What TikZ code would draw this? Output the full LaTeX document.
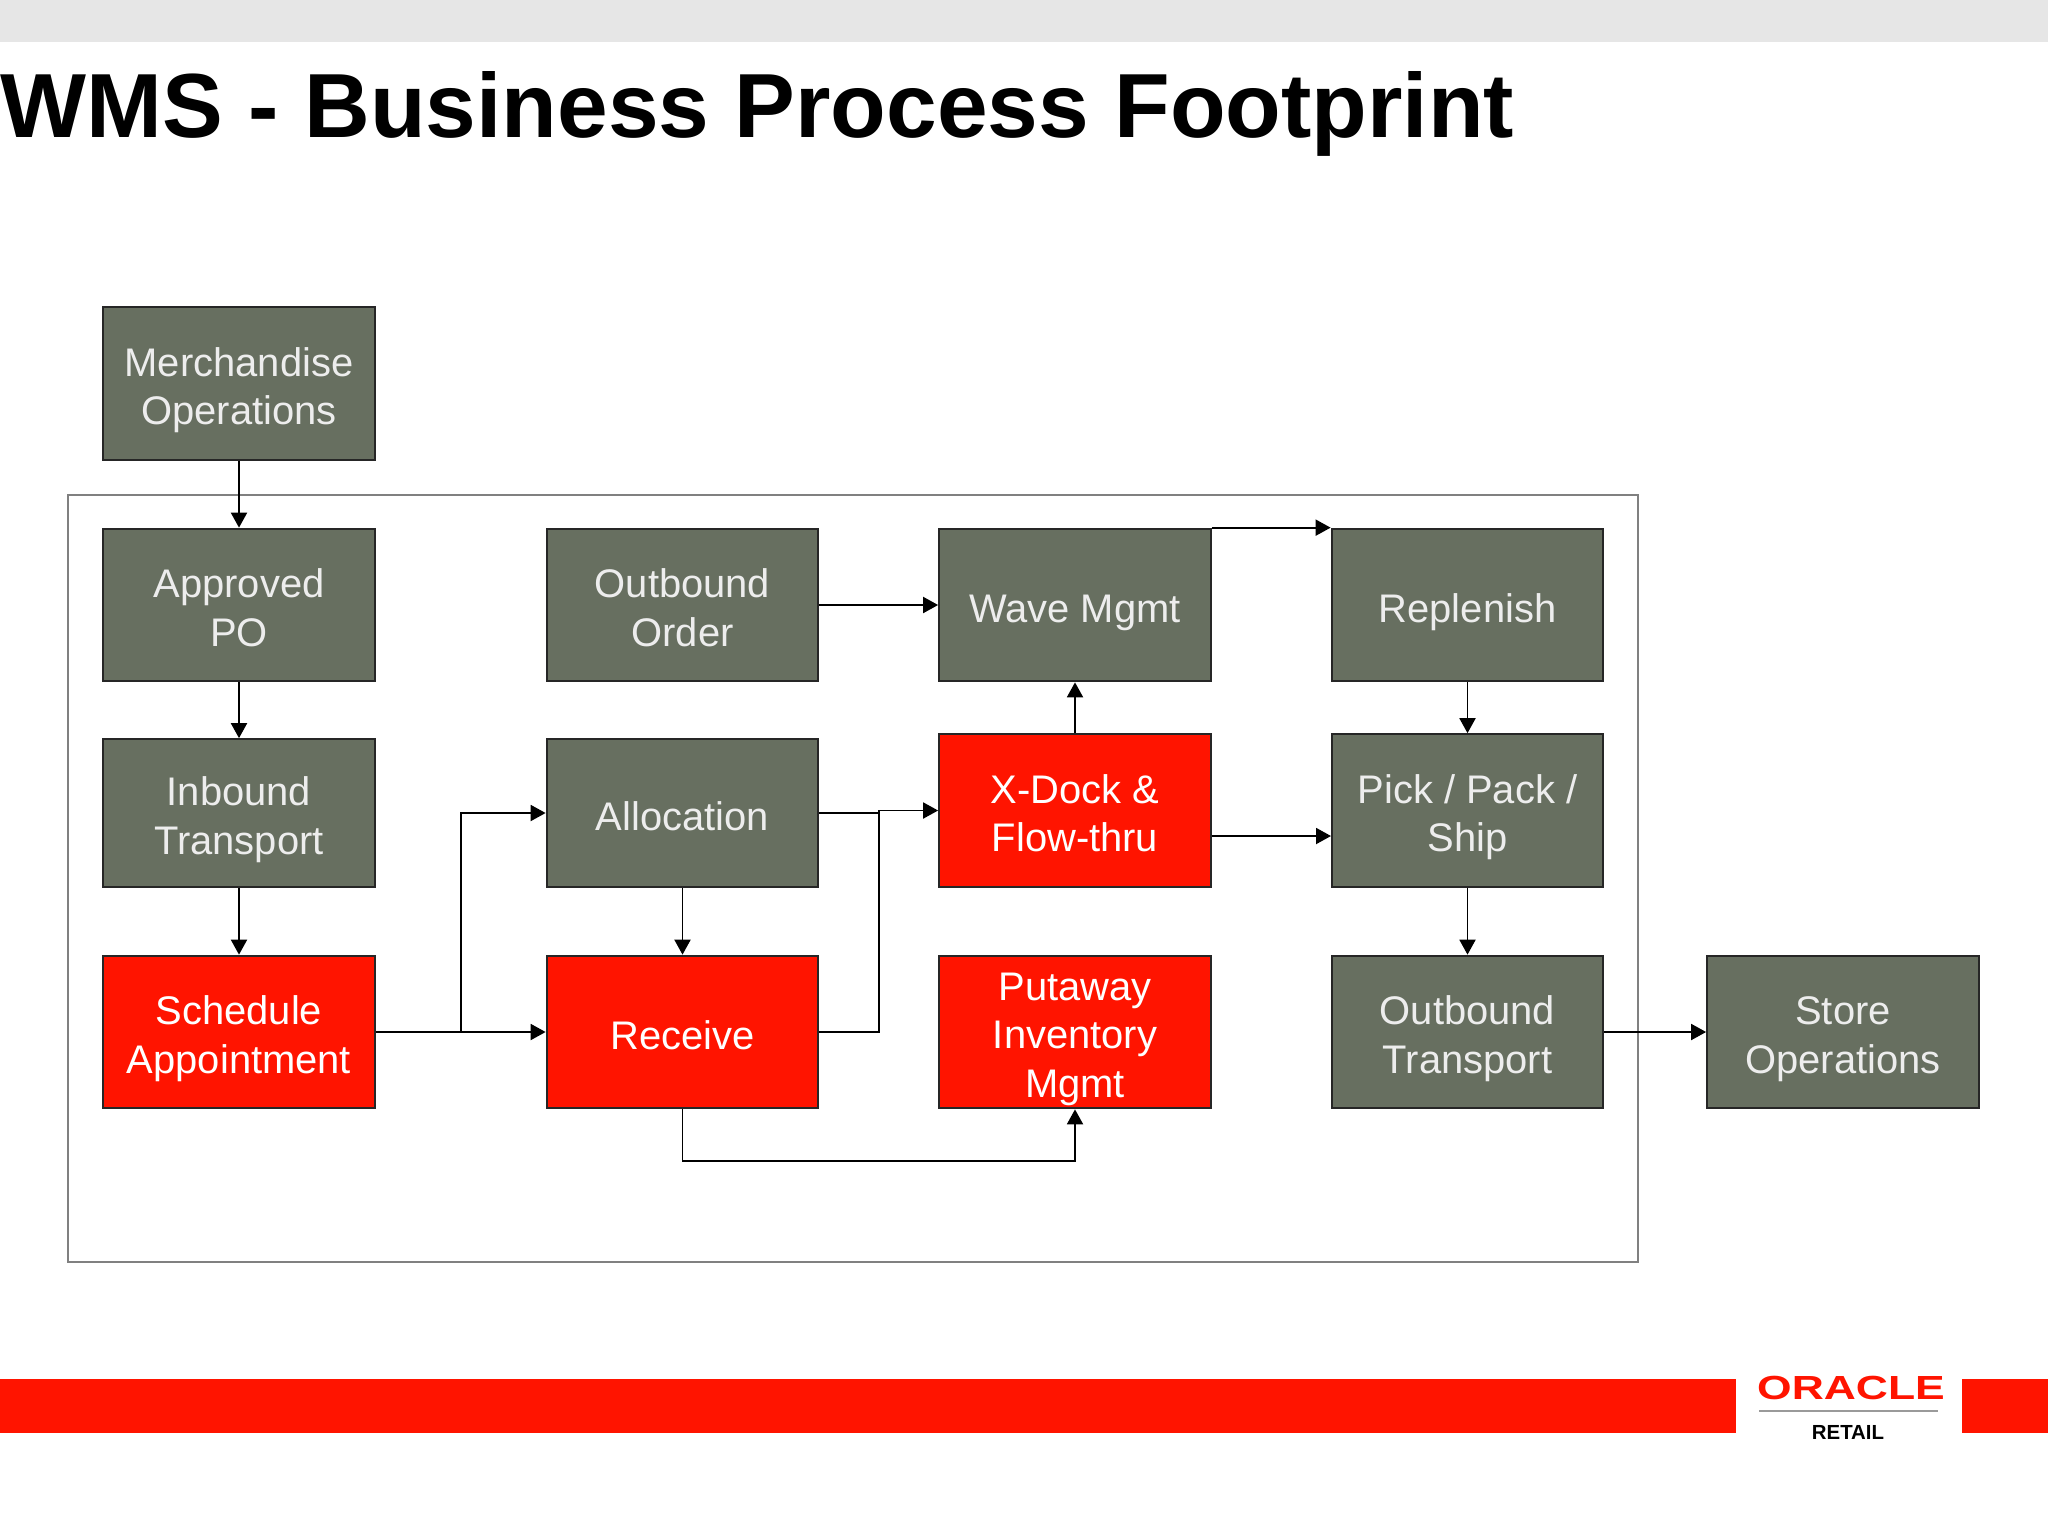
\documentclass[tikz,border=0pt]{standalone}
\usepackage{fontspec}
\setmainfont{Liberation Sans}
\usetikzlibrary{arrows.meta}
\definecolor{boxgray}{HTML}{676F60}
\definecolor{boxred}{HTML}{FF1400}
\definecolor{framegray}{HTML}{808080}
\definecolor{topgray}{HTML}{E6E6E6}
\tikzset{
    stepbox/.style={rectangle, draw=black!85, line width=0.6pt, minimum width=2.715cm, minimum height=1.525cm, inner sep=0pt, align=center, font=\fontsize{11.35}{13.75}\selectfont,
        execute at begin node={\rule{0pt}{12.1pt}}, execute at end node={\rule[-2.4pt]{0pt}{0pt}}},
    graybox/.style={stepbox, fill=boxgray, text=white!93!black},
    redbox/.style={stepbox, fill=boxred, text=white},
    lowtext/.style={execute at begin node={\rule{0pt}{#1}}},
    lowtext/.default=25.8pt
}

\begin{document}
\begin{tikzpicture}[x=0.01cm, y=-0.01cm, line width=0.55pt, >={Triangle[length=0.15cm, width=0.16cm]}]
    \useasboundingbox (0,0) rectangle (2048,1536);

    % Define background
    \fill[white] (0,0) rectangle (2048,1536);
    \fill[topgray] (0,0) rectangle (2048,42);
    \fill[boxred] (0,1379) rectangle (1736,1433);
    \fill[boxred] (1962,1379) rectangle (2048,1433);
    \draw[framegray, line width=0.6pt] (68,495) rectangle (1638,1262);

    % Define title and logo
    \node (title) at (0,137) [anchor=base west, inner sep=0pt, font=\fontsize{25.9}{30}\selectfont\bfseries] {WMS - Business Process Footprint};
    \node (oracle) at (1851,1399) [anchor=base, inner sep=0pt, text=boxred, xscale=1.33, font=\fontsize{9.5}{10}\selectfont\bfseries] {ORACLE};
    \draw[framegray!80, line width=0.7pt] (1759,1411) -- (1938,1411);
    \node (retail) at (1848,1439) [anchor=base, inner sep=0pt, font=\fontsize{5.8}{6}\selectfont\bfseries] {RETAIL};

    % Define nodes
    \node (merch) at (239,383.5) [graybox, lowtext] {Merchandise\\Operations};
    \node (approved) at (239,605) [graybox, lowtext] {Approved\\PO};
    \node (inbound) at (239,813) [graybox, lowtext, minimum height=1.475cm] {Inbound\\Transport};
    \node (schedule) at (239,1032) [redbox, lowtext] {Schedule\\Appointment};
    \node (order) at (682.5,605) [graybox, lowtext] {Outbound\\Order};
    \node (allocation) at (682.5,813) [graybox, minimum height=1.475cm] {Allocation};
    \node (receive) at (682.5,1032) [redbox] {Receive};
    \node (wave) at (1075,605) [graybox] {Wave Mgmt};
    \node (xdock) at (1075,810.5) [redbox, lowtext] {X-Dock \&\\Flow-thru};
    \node (putaway) at (1075,1032) [redbox, lowtext=39.5pt] {Putaway\\Inventory\\Mgmt};
    \node (replenish) at (1467.5,605) [graybox] {Replenish};
    \node (pick) at (1467.5,810.5) [graybox, lowtext] {Pick / Pack /\\Ship};
    \node (outbound) at (1467.5,1032) [graybox, lowtext] {Outbound\\Transport};
    \node (store) at (1843,1032) [graybox, lowtext] {Store\\Operations};

    % Define corners
    \coordinate (branch) at (461,1032);
    \coordinate (merge) at (879,810.5);
    \coordinate (under) at (1075,1161);
    \coordinate (pickin) at (1331,836);
    \coordinate (xdockout) at (1212,836);

    % Draw arrows
    \draw[->] (merch) -- (approved);
    \draw[->] (approved) -- (inbound);
    \draw[->] (inbound) -- (schedule);
    \draw[->] (schedule) -- (receive);
    \draw[->] (branch) |- (allocation.west);
    \draw[->] (allocation) -- (receive);
    \draw (allocation.east) -- (allocation.east -| merge);
    \draw[->] (receive.east) -| (merge) -- (xdock.west);
    \draw[->] (receive.south) |- (under) -- (putaway.south);
    \draw[->] (order) -- (wave);
    \draw[->] (xdock) -- (wave);
    \draw[->] (wave.north east) -- (replenish.north west);
    \draw[->] (xdockout) -- (pickin);
    \draw[->] (replenish) -- (pick);
    \draw[->] (pick) -- (outbound);
    \draw[->] (outbound) -- (store);
\end{tikzpicture}
\end{document}
